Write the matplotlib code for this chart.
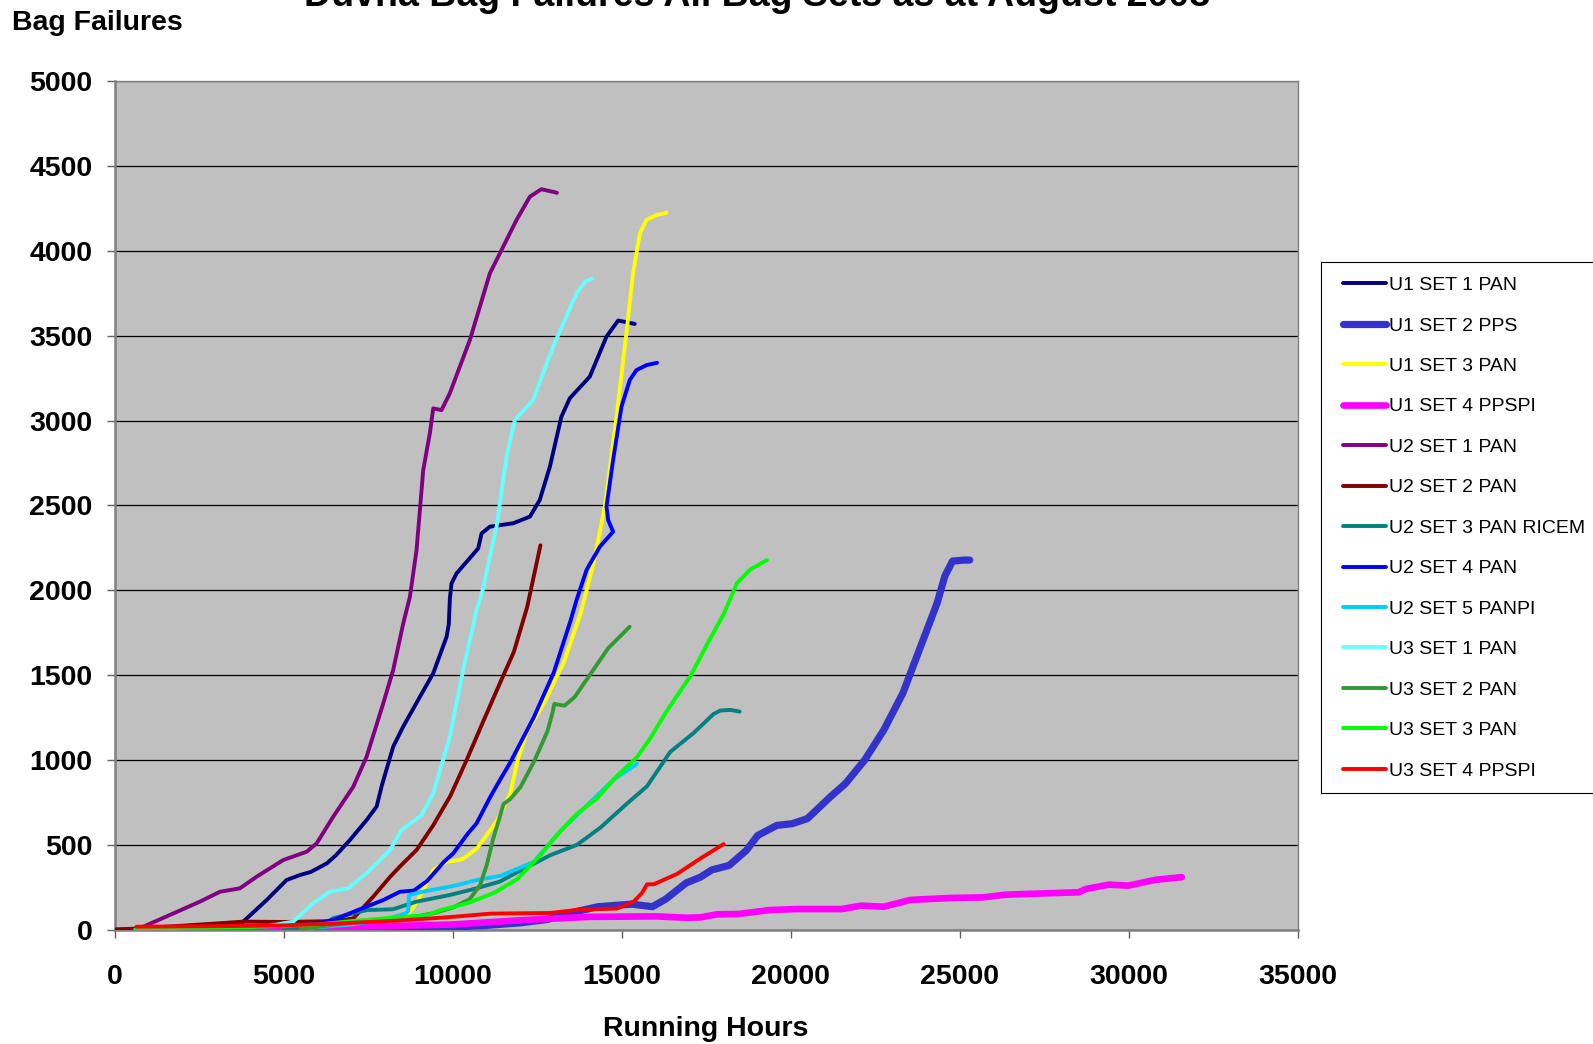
import matplotlib
matplotlib.use("Agg")
import matplotlib.pyplot as plt
from matplotlib.patches import Rectangle
from matplotlib.ticker import MultipleLocator

plt.rcParams['font.family'] = ['Liberation Sans', 'DejaVu Sans']

# ---- data: running hours vs cumulative bag failures per bag set ----
u1s1_x = [0, 1500, 3000, 3500, 3800, 4490, 5080, 5480, 5800, 6270, 6550, 6955, 7450, 7745, 7900,
          8235, 8530, 9025, 9420, 9815, 9880, 9911, 9960, 10110, 10500, 10750, 10850, 11095, 11785,
          12280, 12570, 12870, 13210, 13460, 14050, 14544, 14890, 15380]
u1s1_y = [0, 5, 15, 25, 47, 174, 292, 322, 340, 390, 440, 528, 646, 725, 850,
          1078, 1196, 1372, 1511, 1726, 1800, 1950, 2040, 2100, 2189, 2247, 2335, 2375, 2395,
          2434, 2532, 2728, 3023, 3132, 3259, 3495, 3590, 3570]

u1s2_x = [6000, 8000, 10000, 11000, 12000, 12800, 13500, 14300, 15300, 15900, 16300, 16900, 17322,
          17661, 18170, 18678, 19017, 19582, 20034, 20486, 21164, 21616, 22181, 22746, 23311,
          23650, 23989, 24328, 24554, 24780, 25119, 25288]
u1s2_y = [0, 5, 15, 25, 40, 60, 100, 135, 150, 135, 180, 275, 309,
          352, 378, 466, 555, 614, 624, 654, 782, 861, 999, 1176, 1393,
          1571, 1748, 1926, 2084, 2172, 2178, 2178]

u1s3_x = [6000, 7500, 8500, 8800, 9025, 9420, 9815, 10200, 10325, 10719, 11310, 11704, 11901,
          12197, 12690, 13281, 13774, 14167, 14496, 14842, 15133, 15330, 15532, 15728, 16025, 16320]
u1s3_y = [0, 20, 60, 120, 194, 351, 400, 410, 420, 480, 642, 804, 987,
          1170, 1332, 1575, 1859, 2164, 2493, 3023, 3514, 3868, 4104, 4183, 4212, 4225]

u1s4_x = [1500, 5000, 8000, 10000, 12000, 14000, 16000, 16900, 17322, 17813, 18452, 19356, 20147,
          21503, 22068, 22746, 23537, 24667, 25684, 26362, 28509, 28735, 29413, 29978, 30769, 31560]
u1s4_y = [5, 10, 20, 30, 55, 75, 78, 70, 72, 90, 92, 115, 121,
          121, 141, 135, 175, 186, 190, 206, 220, 240, 265, 259, 293, 309]

u2s1_x = [800, 843, 2520, 3110, 3700, 4197, 4984, 5675, 5970, 6460, 7054, 7448, 7940, 8235, 8533,
          8730, 8926, 9124, 9320, 9420, 9665, 9910, 10503, 11095, 11489, 11884, 12279, 12620, 13080]
u2s1_y = [0, 17, 165, 223, 243, 312, 410, 459, 508, 665, 842, 1019, 1333, 1530, 1805,
          1962, 2237, 2709, 2925, 3072, 3062, 3161, 3475, 3868, 4025, 4183, 4320, 4364, 4343]

u2s2_x = [0, 1000, 3300, 3800, 5000, 6500, 7054, 7644, 8140, 8450, 8926, 9420, 9931, 10424,
          10916, 11409, 11803, 12197, 12591]
u2s2_y = [0, 10, 40, 47, 45, 50, 66, 194, 310, 375, 469, 615, 790, 1007,
          1235, 1460, 1636, 1900, 2265]

u2s3_x = [5000, 6000, 6460, 7450, 8230, 8926, 9439, 9911, 10700, 10916, 11390, 11901, 12887, 13675,
          14364, 15153, 15744, 16433, 17123, 17714, 17911, 18207, 18483]
u2s3_y = [0, 10, 67, 115, 120, 165, 185, 204, 243, 256, 283, 338, 439, 500,
          601, 743, 845, 1048, 1159, 1271, 1291, 1295, 1285]

u2s4_x = [5500, 6460, 7000, 7940, 8433, 8847, 9241, 9734, 10010, 10424, 10700, 11113, 11390, 11704,
          12394, 12985, 13478, 13660, 13955, 14349, 14740, 14594, 14545, 14740, 14988, 15235,
          15433, 15728, 16040]
u2s4_y = [20, 56, 100, 174, 223, 230, 287, 399, 449, 561, 626, 784, 881, 987,
          1251, 1515, 1819, 1943, 2120, 2257, 2345, 2414, 2493, 2768, 3082, 3240,
          3298, 3327, 3341]

u2s5_x = [5500, 7000, 8000, 8600, 8680, 8700, 8748, 9030, 9439, 9911, 10424, 10700, 11409, 12394,
          13182, 13971, 14759, 15449]
u2s5_y = [5, 30, 60, 95, 110, 200, 206, 220, 236, 253, 277, 292, 317, 399,
          581, 733, 885, 977]

u3s1_x = [4500, 5280, 5870, 6360, 6905, 7448, 8140, 8485, 9077, 9420, 9911, 10305, 10700, 10897,
          11044, 11293, 11588, 11834, 12375, 12966, 13657, 13903, 14132]
u3s1_y = [20, 47, 155, 223, 243, 332, 469, 587, 675, 803, 1137, 1530, 1884, 2010,
          2150, 2375, 2787, 3003, 3121, 3436, 3750, 3818, 3838]

u3s2_x = [5500, 7000, 8000, 9000, 9500, 10000, 10500, 10800, 11000, 11200, 11500, 11700, 12000,
          12400, 12800, 12950, 13000, 13300, 13600, 14100, 14600, 15230]
u3s2_y = [5, 40, 60, 80, 100, 130, 180, 260, 380, 540, 740, 770, 840,
          990, 1170, 1280, 1330, 1320, 1370, 1515, 1660, 1785]

u3s3_x = [600, 2000, 4000, 6000, 7000, 8453, 9241, 9636, 10424, 11211, 11901, 12591, 13182, 13675,
          14266, 14857, 15449, 15843, 16335, 17025, 17616, 18010, 18404, 18798, 19290]
u3s3_y = [0, 10, 15, 30, 50, 74, 84, 115, 155, 216, 297, 439, 581, 683,
          774, 906, 1017, 1129, 1291, 1494, 1717, 1859, 2042, 2123, 2178]

u3s4_x = [640, 3000, 5000, 6500, 8453, 9931, 11113, 12887, 13774, 14857, 15350, 15596, 15744,
          15942, 16631, 17320, 18010]
u3s4_y = [17, 20, 25, 35, 54, 74, 94, 98, 118, 124, 165, 216, 267,
          267, 328, 419, 504]

labels = ["U1 SET 1 PAN", "U1 SET 2 PPS", "U1 SET 3 PAN", "U1 SET 4 PPSPI",
          "U2 SET 1 PAN", "U2 SET 2 PAN", "U2 SET 3 PAN RICEM", "U2 SET 4 PAN",
          "U2 SET 5 PANPI", "U3 SET 1 PAN", "U3 SET 2 PAN", "U3 SET 3 PAN", "U3 SET 4 PPSPI"]
xs = [u1s1_x, u1s2_x, u1s3_x, u1s4_x, u2s1_x, u2s2_x, u2s3_x, u2s4_x, u2s5_x,
      u3s1_x, u3s2_x, u3s3_x, u3s4_x]
ys = [u1s1_y, u1s2_y, u1s3_y, u1s4_y, u2s1_y, u2s2_y, u2s3_y, u2s4_y, u2s5_y,
      u3s1_y, u3s2_y, u3s3_y, u3s4_y]
colors = ["#000080", "#3333CC", "#FFFF00", "#FF00FF", "#800080", "#800000", "#008080",
          "#0000FF", "#00CCFF", "#66FFFF", "#339933", "#00FF00", "#FF0000"]
widths = [2.8, 5.2, 2.8, 4.8, 2.8, 2.8, 2.8, 2.8, 2.8, 2.8, 2.8, 2.8, 2.8]

W, H = 1593, 1044
fig = plt.figure(figsize=(W / 100, H / 100), dpi=100)
fig.patch.set_facecolor("white")

ax_l, ax_r, ax_t, ax_b = 114.8, 1298.0, 81.3, 929.6
ax = fig.add_axes([ax_l / W, 1 - ax_b / H, (ax_r - ax_l) / W, (ax_b - ax_t) / H])
ax.set_facecolor("#C0C0C0")

for x, y, c, lw, lab in zip(xs, ys, colors, widths, labels):
    ax.plot(x, y, color=c, lw=lw, label=lab, solid_capstyle="round",
            solid_joinstyle="round", zorder=3)

ax.set_xlim(0, 35000)
ax.set_ylim(0, 5000)
ax.xaxis.set_major_locator(MultipleLocator(5000))
ax.yaxis.set_major_locator(MultipleLocator(500))
ax.yaxis.grid(True, color="black", lw=0.9, zorder=1)
ax.set_axisbelow(True)

for side in ["top", "right"]:
    ax.spines[side].set_color("#808080")
    ax.spines[side].set_linewidth(1.0)
for side in ["left", "bottom"]:
    ax.spines[side].set_color("#808080")
    ax.spines[side].set_linewidth(1.8)

ax.tick_params(axis="both", direction="out", length=6, width=1, color="#606060")
ax.tick_params(axis="y", pad=10)
ax.tick_params(axis="x", pad=19)
for lbl in ax.get_xticklabels() + ax.get_yticklabels():
    lbl.set_fontsize(20.5)
    lbl.set_fontweight("bold")

fig.text(757 / W, 1 - 6 / H, "Duvha Bag Failures All Bag Sets as at August 2008",
         ha="center", va="baseline", fontsize=27, fontweight="bold")
fig.text(12 / W, 1 - 30.5 / H, "Bag Failures", ha="left", va="baseline",
         fontsize=20.5, fontweight="bold")
fig.text(706 / W, 1 - 1036 / H, "Running Hours", ha="center", va="baseline",
         fontsize=20.5, fontweight="bold")

# legend box (runs past the right edge of the figure)
box_l, box_t, box_b = 1321, 262, 792.5
fig.add_artist(Rectangle((box_l / W, 1 - box_b / H), (W + 20 - box_l) / W, (box_b - box_t) / H,
                         transform=fig.transFigure, facecolor="white", edgecolor="black",
                         lw=0.8, zorder=4))
leg = fig.legend(loc="upper left", bbox_to_anchor=(1343 / W, 1 - 276.5 / H),
                 fontsize=14, frameon=False, borderpad=0, labelspacing=1.175,
                 handlelength=2.2, handletextpad=0.15, borderaxespad=0)
leg.set_zorder(5)

fig.savefig("out.png", dpi=100)
